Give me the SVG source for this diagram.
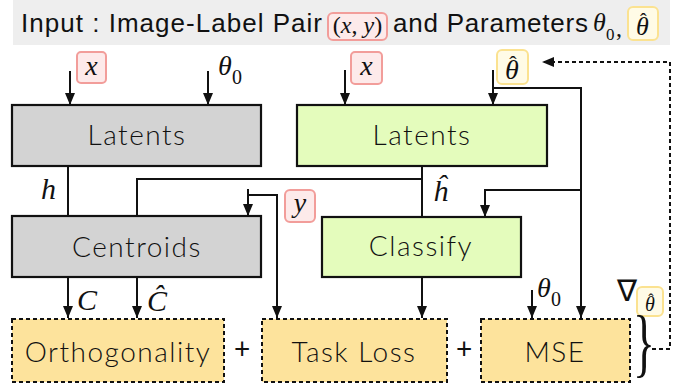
<svg xmlns="http://www.w3.org/2000/svg" width="684" height="386" viewBox="0 0 684 386">
<style>
.hdr{font-family:"Liberation Sans",Arial,sans-serif;font-size:26px;fill:#111}
.box{stroke:#111;stroke-width:2.2}
.gray{fill:#d3d3d3}
.green{fill:#e4fcbc}
.loss{fill:#fde39c;stroke:#111;stroke-width:2;stroke-dasharray:4 3}
.lbl{font-family:Lato,"Open Sans",sans-serif;font-size:28px;font-weight:300;letter-spacing:1.5px;fill:#111;text-anchor:middle}
.plus{font-family:Lato,"Open Sans",sans-serif;font-size:28px;fill:#111;text-anchor:middle}
.m{font-family:"Liberation Serif","Times New Roman",serif;font-style:italic;fill:#111}
.hat{font-family:"Liberation Serif","Times New Roman",serif;font-style:normal}
.up{font-family:"Liberation Serif","Times New Roman",serif;fill:#111}
.pink{fill:#fdeaea;stroke:#f29d9a;stroke-width:2}
.yel{fill:#fffbe6;stroke:#fbe290;stroke-width:2}
.c{fill:none;stroke:#111;stroke-width:2}
.d{fill:none;stroke:#111;stroke-width:2;stroke-dasharray:4 3}
</style>
<defs>
<marker id="ah" viewBox="0 0 12 12" refX="12" refY="6" markerWidth="12" markerHeight="12" markerUnits="userSpaceOnUse" orient="auto">
<path d="M0,1 L12,6 L0,11 z" fill="#111"/>
</marker>
</defs>

<g id="header">
<rect x="13" y="0" width="657" height="45" fill="#eeeeee"/>
<text class="hdr" x="21" y="32" textLength="301" lengthAdjust="spacing">Input : Image-Label Pair</text>
<rect class="pink" x="328" y="13" width="59" height="27" rx="5"/>
<text class="up" x="357.5" y="33" font-size="24" text-anchor="middle">(<tspan font-style="italic">x</tspan>, <tspan font-style="italic">y</tspan>)</text>
<text class="hdr" x="393" y="32" textLength="195" lengthAdjust="spacing">and Parameters</text>
<text class="m" x="593" y="31" font-size="26">θ</text>
<text class="up" x="606" y="40" font-size="17">0</text>
<text class="up" x="616" y="36" font-size="24">,</text>
<rect class="yel" x="628" y="7" width="30" height="33" rx="5"/>
<text class="m" x="636" y="35" font-size="26">θ<tspan class="hat" x="640" y="28" font-size="20">ˆ</tspan></text>
</g>

<g id="connectors">
<path class="c" d="M70,71 V105" marker-end="url(#ah)"/>
<path class="c" d="M208,71 V105" marker-end="url(#ah)"/>
<path class="c" d="M345,70 V105" marker-end="url(#ah)"/>
<path class="c" d="M493,70 V105" marker-end="url(#ah)"/>
<path class="c" d="M493,88 H581 V318" marker-end="url(#ah)"/>
<path class="c" d="M581,190 H485 V217" marker-end="url(#ah)"/>
<path class="c" d="M68,166 V216"/>
<path class="c" d="M422,166 V217"/>
<path class="c" d="M422,179 H137 V216"/>
<path class="c" d="M248,189 V216" marker-end="url(#ah)"/>
<path class="c" d="M248,195 H277 V318" marker-end="url(#ah)"/>
<path class="c" d="M68,277 V318" marker-end="url(#ah)"/>
<path class="c" d="M137,277 V318" marker-end="url(#ah)"/>
<path class="c" d="M422,277 V318" marker-end="url(#ah)"/>
<path class="c" d="M532,290 V318" marker-end="url(#ah)"/>
<path class="d" d="M652,349 H670 V62 H542" marker-end="url(#ah)"/>
</g>

<g id="in-x1">
<rect class="pink" x="77" y="52" width="29" height="31" rx="4"/>
<text class="m" x="91.5" y="75" font-size="28" text-anchor="middle">x</text>
</g>
<g id="in-theta0-1">
<text class="m" x="218" y="75" font-size="28">θ</text>
<text class="up" x="232" y="84" font-size="20">0</text>
</g>
<g id="in-x2">
<rect class="pink" x="351" y="52" width="31" height="32" rx="4"/>
<text class="m" x="366.5" y="75" font-size="28" text-anchor="middle">x</text>
</g>
<g id="in-thetahat">
<rect class="yel" x="497" y="50" width="31" height="34" rx="5"/>
<text class="m" x="505" y="79" font-size="28">θ<tspan class="hat" x="509.3" y="71" font-size="22">ˆ</tspan></text>
</g>

<g id="latents-gray">
<rect class="box gray" x="12" y="105" width="249" height="61"/>
<text class="lbl" x="137" y="145">Latents</text>
</g>
<g id="latents-green">
<rect class="box green" x="297" y="105" width="250" height="61"/>
<text class="lbl" x="422" y="145">Latents</text>
</g>
<g id="centroids">
<rect class="box gray" x="12" y="216" width="249" height="61"/>
<text class="lbl" x="137" y="257">Centroids</text>
</g>
<g id="classify">
<rect class="box green" x="322" y="217" width="199" height="60"/>
<text class="lbl" x="421" y="256">Classify</text>
</g>

<g id="label-h"><text class="m" x="41" y="199" font-size="30">h</text></g>
<g id="label-hhat"><text class="m" x="433" y="201" font-size="30">ĥ</text></g>
<g id="in-y">
<rect class="pink" x="285" y="190" width="30" height="32" rx="5"/>
<text class="m" x="300" y="212" font-size="28" text-anchor="middle">y</text>
</g>
<g id="label-C"><text class="m" x="77" y="310" font-size="30">C</text></g>
<g id="label-Chat"><text class="m" x="147" y="311" font-size="30">Ĉ</text></g>

<g id="orthogonality">
<rect class="loss" x="12" y="319" width="212" height="63"/>
<text class="lbl" x="118" y="362">Orthogonality</text>
</g>
<text class="plus" x="242" y="359">+</text>
<g id="task-loss">
<rect class="loss" x="262" y="319" width="185" height="63"/>
<text class="lbl" x="354" y="362">Task Loss</text>
</g>
<text class="plus" x="464" y="359">+</text>
<g id="mse">
<rect class="loss" x="481" y="319" width="149" height="63"/>
<text class="lbl" x="555" y="362">MSE</text>
</g>

<g id="label-theta0-mse">
<text class="m" x="537" y="297" font-size="28">θ</text>
<text class="up" x="551" y="306" font-size="20">0</text>
</g>
<g id="gradient">
<text class="up" x="617" y="301" font-size="30">∇</text>
<rect class="yel" x="637" y="287" width="26" height="29" rx="5"/>
<text class="m" x="645" y="311" font-size="20">θ<tspan class="hat" x="648.3" y="305" font-size="16">ˆ</tspan></text>
<text class="up" x="0" y="0" font-size="76" transform="translate(633,368) scale(0.6,1)">}</text>
</g>
</svg>
